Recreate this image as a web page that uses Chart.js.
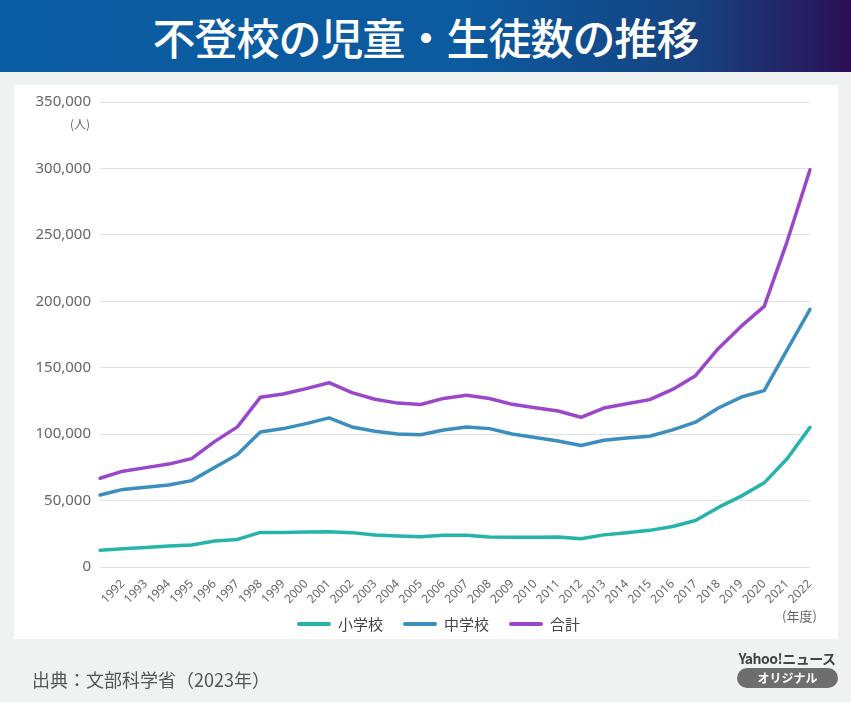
<!DOCTYPE html>
<html lang="ja">
<head>
    <meta charset="UTF-8">
    <title>不登校の児童・生徒数の推移</title>
    <script src="https://cdn.jsdelivr.net/npm/chart.js"></script>
    <style>
        html, body { margin: 0; padding: 0; }
        body { width: 851px; height: 702px; background: #eef2f1; position: relative; overflow: hidden;
               font-family: "Noto Sans CJK JP", "Noto Sans", sans-serif; }
        .header { position: absolute; left: 0; top: 0; width: 851px; height: 72px;
                  background: linear-gradient(90deg, #0b5da3 0%, #0c5a9f 55%, #16427f 82%, #2c0f55 100%); }
        .header h1 { margin: 0; color: #fff; font-size: 43px; font-weight: 500; text-align: center;
                     line-height: 72px; letter-spacing: -1px; }
        .card { position: absolute; left: 14px; top: 85px; width: 824px; height: 554px; background: #fff; }
        #wrap { position: absolute; left: 0; top: 0; width: 851px; height: 702px; }
        .unit-y { position: absolute; left: 70px; top: 115px; font-size: 12px; color: #666; }
        .unit-x { position: absolute; left: 782px; top: 606px; font-size: 13px; color: #666; }
        .legend { position: absolute; top: 613px; left: 297px; display: flex; align-items: center; font-size: 15px; color: #444; }
        .legend span.sw { display: inline-block; width: 34px; height: 4px; border-radius: 2px; margin-right: 7px; }
        .legend .item { display: flex; align-items: center; margin-right: 20px; }
        .source { position: absolute; left: 32px; top: 666px; font-size: 18px; color: #555; }
        .yahoo { position: absolute; left: 736px; top: 648px; width: 102px; text-align: center; font-size: 14px; font-weight: 700; color: #444; letter-spacing: -0.5px; }
        .pill { position: absolute; left: 737px; top: 668px; width: 101px; height: 20px; border-radius: 10px; background: #6e6e6e;
                color: #fff; font-size: 12px; font-weight: 700; text-align: center; line-height: 20px; }
    </style>
</head>
<body>
    <div class="header"><h1>不登校の児童・生徒数の推移</h1></div>
    <div class="card"></div>
    <div id="wrap"><canvas id="lineChart"></canvas></div>
    <div class="unit-y">(人)</div>
    <div class="unit-x">(年度)</div>
    <div class="legend">
        <div class="item"><span class="sw" style="background:#25b4aa"></span>小学校</div>
        <div class="item"><span class="sw" style="background:#3b8ebe"></span>中学校</div>
        <div class="item"><span class="sw" style="background:#9a47c9"></span>合計</div>
    </div>
    <div class="source">出典：文部科学省（2023年）</div>
    <div class="yahoo">Yahoo!ニュース</div>
    <div class="pill">オリジナル</div>
    <script>
        // 年度 (1991 は目盛りなし)
        const years = ['1991', '1992', '1993', '1994', '1995', '1996', '1997', '1998', '1999', '2000',
            '2001', '2002', '2003', '2004', '2005', '2006', '2007', '2008', '2009', '2010',
            '2011', '2012', '2013', '2014', '2015', '2016', '2017', '2018', '2019', '2020',
            '2021', '2022'];
        const elementary = [12645, 13710, 14769, 15786, 16569, 19498, 20765, 26017, 26047, 26373,
            26511, 25869, 24077, 23318, 22709, 23825, 23927, 22652, 22327, 22463,
            22622, 21243, 24175, 25864, 27583, 30448, 35032, 44841, 53350, 63350,
            81498, 105112];
        const juniorHigh = [54172, 58421, 60039, 61663, 65022, 74853, 84701, 101675, 104180, 107913,
            112211, 105383, 102149, 100040, 99578, 103069, 105328, 104153, 100105, 97428,
            94836, 91446, 95442, 97033, 98408, 103235, 108999, 119687, 127922, 132777,
            163442, 193936];
        const total = [66817, 72131, 74808, 77449, 81591, 94351, 105466, 127692, 130227, 134286,
            138722, 131252, 126226, 123358, 122287, 126894, 129255, 126805, 122432, 119891,
            117458, 112689, 119617, 122897, 125991, 133683, 144031, 164528, 181272, 196127,
            244940, 299048];
        const yTicks = [0, 50000, 100000, 150000, 200000, 250000, 300000, 350000];

        const line = (label, data, color) => ({
            label: label,
            data: data,
            borderColor: color,
            backgroundColor: color,
            borderWidth: 3.5,
            pointRadius: 0,
            tension: 0,
            borderJoinStyle: 'round',
            borderCapStyle: 'round'
        });

        const ctx = document.getElementById('lineChart').getContext('2d');
        new Chart(ctx, {
            type: 'line',
            data: {
                labels: years,
                datasets: [
                    line('小学校', elementary, '#25b4aa'),
                    line('中学校', juniorHigh, '#3b8ebe'),
                    line('合計', total, '#9a47c9')
                ]
            },
            options: {
                responsive: true,
                maintainAspectRatio: false,
                animation: false,
                layout: { padding: { left: 0, right: 41, top: 102, bottom: 0 } },
                plugins: { legend: { display: false }, tooltip: { enabled: false } },
                scales: {
                    x: {
                        offset: false,
                        grid: { display: false },
                        border: { display: false },
                        ticks: {
                            autoSkip: false,
                            minRotation: 45,
                            maxRotation: 45,
                            padding: 2,
                            color: '#666',
                            font: { family: 'Noto Sans', size: 12 },
                            callback: function(v, i) { return i === 0 ? '' : years[i]; }
                        },
                        afterFit: function(scale) { scale.height = 135; }
                    },
                    y: {
                        min: 0,
                        max: 350000,
                        grid: { color: '#e2e2e2', drawTicks: false },
                        border: { display: false },
                        afterBuildTicks: function(scale) { scale.ticks = yTicks.map(v => ({ value: v })); },
                        ticks: {
                            padding: 9,
                            color: '#666',
                            font: { family: 'Noto Sans', size: 15 },
                            callback: function(v) { return v.toLocaleString('en-US'); }
                        },
                        afterFit: function(scale) { scale.width = 100; }
                    }
                }
            }
        });
    </script>
</body>
</html>
